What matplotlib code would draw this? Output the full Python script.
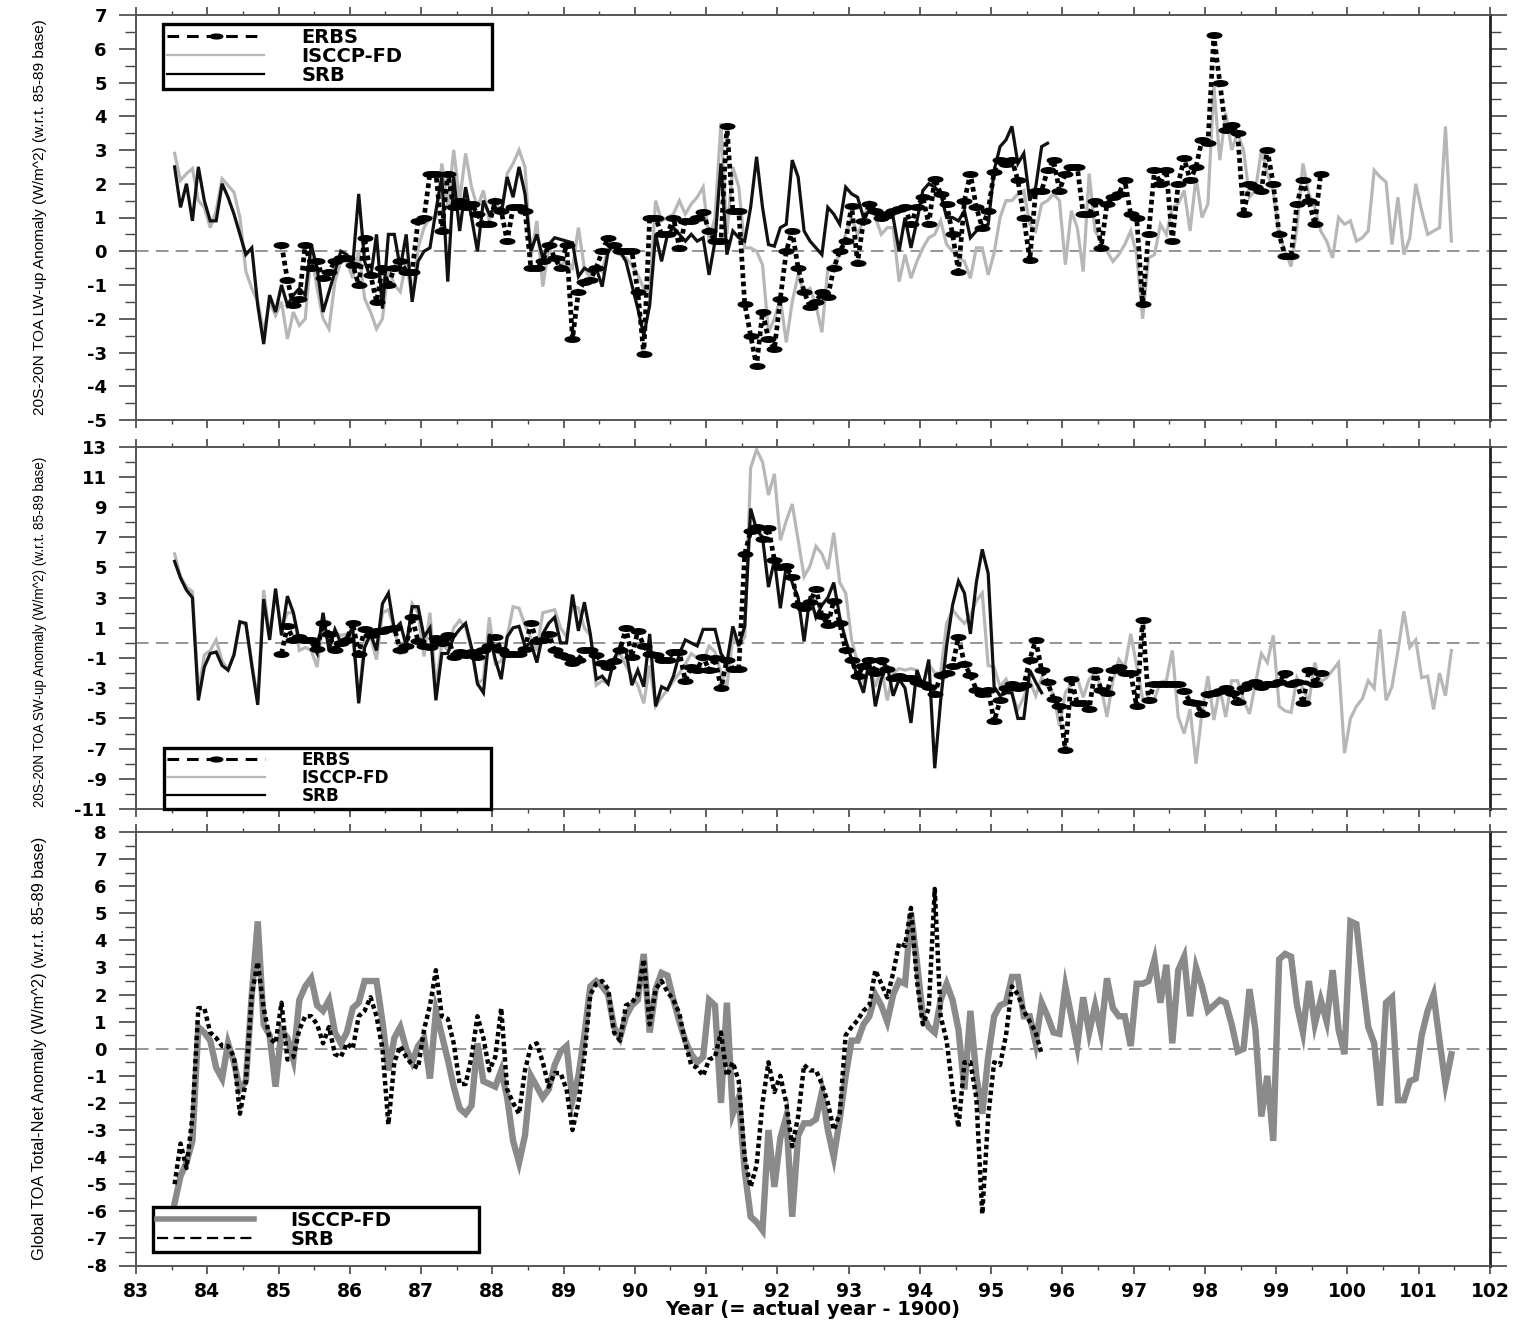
import numpy as np
import matplotlib
matplotlib.use("Agg")
import matplotlib.pyplot as plt
from matplotlib.path import Path
from matplotlib.transforms import Affine2D
from matplotlib.lines import Line2D
from matplotlib.ticker import MultipleLocator, FixedLocator

plt.rcParams["font.family"] = ["DejaVu Sans"]
plt.rcParams["axes.unicode_minus"] = False

# monthly anomalies, first month = July 1983 (mid-month)
T0 = 83.5 + 1 / 24
ERBS_START = 18  # ERBS record starts Jan 1985

# ---- 20S-20N LW-up ----
srb_lw = [2.5, 1.3, 2.0, 0.9, 2.5, 1.5, 0.9, 0.9, 2.0, 1.6,
          1.1, 0.5, -0.1, 0.1, -1.6, -2.75, -1.3, -1.8, -1.0, -1.6,
          -1.3, -1.1, -1.3, 0.2, -0.5, -1.8, -1.2, -0.6, 0.0, -0.1,
          -0.4, 1.7, -0.3, -0.8, 0.5, -1.7, 0.5, 0.5, -0.5, 0.5,
          -1.5, -0.3, 0.0, 0.1, 1.2, 2.2, -0.9, 2.2, 0.6, 1.9,
          1.0, 0.0, 1.5, 1.1, 1.3, 1.1, 2.2, 1.6, 2.5, 1.7,
          0.0, 0.5, -0.2, 0.2, 0.4, 0.35, 0.3, 0.25, -0.75, -0.5,
          -0.6, -0.5, -1.05, 0.0, 0.2, 0.0, -0.3, -1.0, -1.7, -2.5,
          -1.6, 0.5, -0.3, 0.5, 0.7, 0.5, 0.3, 0.5, 0.3, 0.4,
          -0.7, 0.3, 2.6, -0.1, 0.6, 0.4, 0.3, 1.3, 2.8, 1.3,
          0.2, 0.15, 0.7, 0.8, 2.7, 2.2, 0.6, 0.3, 0.1, -0.1,
          1.3, 1.1, 0.8, 1.9, 1.7, 1.6, 1.0, 1.2, 1.1, 1.0,
          1.0, 1.0, 0.0, 1.0, 0.1, 0.9, 1.8, 2.0, 1.9, 1.7,
          1.0, 1.0, 0.9, 1.2, 0.4, 0.6, 0.7, 0.8, 2.4, 3.1,
          3.3, 3.7, 2.6, 2.9, 1.5, 1.9, 3.1, 3.2]
isccp_lw = [2.9, 2.1, 2.3, 2.45, 1.5, 1.3, 0.7, 1.2, 2.15, 1.95,
            1.75, 1.0, -0.6, -1.1, -1.5, -2.4, -1.5, -1.9, -1.5, -2.6,
            -1.8, -2.2, -2.0, 0.0, -1.1, -2.0, -2.3, -0.9, -0.3, -0.3,
            -0.8, 0.0, -1.4, -1.8, -2.3, -2.0, -0.5, -1.0, -1.2, -0.3,
            -1.4, 0.1, 0.7, 1.0, 1.0, 2.6, 1.3, 3.0, 1.5, 2.9,
            1.9, 1.3, 1.8, 0.9, 1.5, 1.1, 2.3, 2.6, 3.0, 2.5,
            -0.2, 0.9, -1.05, 0.1, -0.2, -0.4, -0.3, -0.5, 0.7, -0.5,
            -0.8, -0.4, -0.6, 0.1, 0.0, -0.1, -0.2, -0.4, -0.7, -1.1,
            -1.2, 1.5, 0.9, 1.0, 1.1, 1.5, 1.1, 1.4, 1.6, 1.9,
            0.3, 1.0, 3.8, 0.5, 2.5, 1.9, 0.1, 0.1, 0.0, -0.4,
            -2.4, -2.0, -1.4, -2.7, -1.5, -0.7, -1.2, -1.1, -1.6, -2.4,
            -0.5, -0.4, -0.1, 0.5, 1.0, 0.5, 0.9, 1.5, 1.0, 0.5,
            0.7, 0.7, -0.9, -0.1, -0.8, -0.3, 0.1, 0.4, 0.5, 0.9,
            0.2, 0.0, -0.2, -0.3, -0.8, 0.1, 0.1, -0.7, -0.05, 1.0,
            1.5, 1.5, 1.7, 1.8, 0.8, 0.6, 1.4, 1.5, 1.7, 1.5,
            -0.4, 1.2, 0.7, -0.6, 2.3, 0.6, 0.3, 0.0, -0.3, -0.1,
            0.2, 0.6, -0.1, -2.0, -0.2, -0.1, 0.8, 0.5, 1.3, 1.4,
            1.8, 0.6, 2.2, 1.0, 1.4, 4.9, 2.7, 4.1, 3.0, 3.5,
            3.0, 1.6, 1.8, 3.0, 2.3, 1.8, 0.5, 0.0, -0.45, 0.7,
            2.6, 1.7, 1.3, 0.6, 0.3, -0.2, 1.0, 0.8, 0.9, 0.3,
            0.4, 0.6, 2.4, 2.2, 2.05, 0.2, 1.6, -0.1, 0.4, 2.0,
            1.2, 0.5, 0.6, 0.7, 3.7, 0.3]
erbs_lw = [0.2, -0.85, -1.6, -1.4, 0.2, -0.5, -0.3, -0.8, -0.6, -0.3,
           -0.2, -0.2, -0.4, -1.0, 0.4, -0.7, -1.5, -0.5, -1.0, -0.5,
           -0.3, -0.6, -0.6, 0.9, 1.0, 2.3, 2.3, 0.6, 2.3, 1.3,
           1.5, 1.3, 1.4, 1.1, 0.8, 0.8, 1.5, 1.2, 0.3, 1.3,
           1.3, 1.2, -0.5, -0.5, -0.3, 0.2, -0.2, -0.5, 0.2, -2.6,
           -1.2, -0.9, -0.85, -0.5, 0.0, 0.4, 0.2, 0.0, 0.0, 0.0,
           -1.2, -3.05, 1.0, 1.0, 0.5, 0.5, 1.0, 0.1, 0.9, 0.9,
           1.0, 1.15, 0.6, 0.3, 0.3, 3.7, 1.2, 1.2, -1.55, -2.5,
           -3.4, -1.8, -2.6, -2.9, -1.4, 0.0, 0.6, -0.5, -1.2, -1.65,
           -1.5, -1.2, -1.35, -0.5, 0.0, 0.3, 1.35, -0.35, 0.9, 1.4,
           1.2, 1.0, 1.1, 1.2, 1.25, 1.3, 0.8, 1.3, 1.6, 0.8,
           2.15, 1.7, 1.4, 0.5, -0.6, 1.5, 2.3, 1.3, 0.7, 1.2,
           2.35, 2.7, 2.6, 2.7, 2.1, 1.0, -0.27, 1.8, 1.8, 2.4,
           2.7, 1.8, 2.3, 2.5, 2.5, 1.1, 1.1, 1.5, 0.1, 1.4,
           1.6, 1.7, 2.1, 1.1, 1.0, -1.55, 0.5, 2.4, 2.0, 2.4,
           0.3, 2.0, 2.75, 2.1, 2.5, 3.3, 3.2, 6.4, 5.0, 3.6,
           3.75, 3.5, 1.1, 2.0, 1.9, 1.8, 3.0, 2.0, 0.5, -0.15,
           -0.15, 1.4, 2.1, 1.5, 0.8, 2.3]

# ---- 20S-20N SW-up ----
srb_sw = [5.4, 4.3, 3.5, 3.0, -3.8, -1.6, -0.7, -0.6, -1.5, -1.8,
          -0.8, 1.4, 1.3, -1.5, -4.1, 2.9, 0.2, 3.6, 0.5, 3.1,
          2.0, 0.1, 0.1, 0.0, -0.7, 2.0, -0.5, 0.9, 0.0, 0.4,
          1.0, -4.0, -0.3, 0.6, -0.5, 2.6, 3.3, 0.9, 1.3, -0.2,
          2.4, 2.4, 0.4, 1.0, -3.8, -0.7, -0.7, 0.4, 0.9, 1.3,
          -0.3, -2.7, -3.3, 0.6, -1.1, -2.4, 0.4, 1.0, 1.1, -0.2,
          0.0, -1.3, 0.6, 1.3, 1.7, 0.0, 0.0, 3.2, 0.8, 2.7,
          0.6, -2.4, -2.2, -2.7, -1.1, -0.2, -0.5, -2.8, -1.8, -2.9,
          0.6, -4.2, -2.9, -3.1, -2.2, -0.7, 0.2, 0.0, -0.2, 0.9,
          0.9, 0.9, -0.7, -1.3, 1.1, -0.2, 1.1, 8.9, 7.5, 7.0,
          3.7, 5.5, 2.3, 5.1, 4.0, 3.0, 0.1, 3.1, 1.7, 2.5,
          3.0, 4.0, 1.7, 0.2, -1.1, -2.2, -3.3, -1.1, -4.2, -2.4,
          -1.5, -3.5, -2.4, -3.0, -5.3, -1.8, -2.9, -1.1, -8.3, -3.8,
          -0.2, 2.5, 4.1, 3.3, 0.6, 4.0, 6.2, 4.6, -2.9, -3.5,
          -3.3, -3.3, -5.0, -5.0, -1.8, -2.6, -3.3]
isccp_sw = [5.9, 4.4, 3.7, 3.4, -3.3, -0.8, -0.5, 0.2, -1.2, -1.8,
            -0.7, 1.4, 1.2, -1.3, -3.8, 3.5, 0.5, 3.3, 1.0, 2.0,
            2.0, -0.5, -0.3, -0.5, -1.6, 1.5, 0.2, 0.7, 0.5, 0.6,
            0.4, -3.8, 0.4, 0.4, -1.1, 2.0, 2.2, 0.9, -0.7, -0.6,
            2.6, 2.0, -0.9, 2.0, -2.9, 0.0, -0.5, 1.0, 1.5, 1.0,
            -0.5, -2.7, -2.4, 1.7, -1.4, -1.2, 0.4, 2.4, 2.3, 1.2,
            0.3, -0.5, 2.0, 2.1, 2.2, 1.0, 0.4, 2.5, 2.3, 1.0,
            0.5, -2.8, -2.5, -2.7, -1.0, -0.7, -1.5, -2.2, -2.8, -4.0,
            -1.5, -4.2, -3.6, -3.1, -2.5, -2.0, -1.4, -0.7, -1.0, -1.2,
            -0.2, -0.6, -2.0, -2.9, 0.4, -0.2, 0.4, 11.6, 12.8, 12.0,
            9.8, 11.2, 6.8, 8.1, 9.2, 6.8, 4.4, 5.1, 6.4, 5.9,
            4.9, 7.3, 4.0, 3.3, 0.2, -1.3, -2.5, -1.5, -2.9, -1.6,
            -3.8, -2.0, -1.7, -1.8, -1.7, -1.8, -2.9, -1.4, -2.0, -2.0,
            1.3, 2.2, 1.7, 1.3, 1.8, 2.8, 3.3, -1.5, -1.6, -2.9,
            -2.4, -3.4, -4.4, -3.6, -2.5, -3.5, -2.3, -2.9, -3.4, -5.5,
            -3.3, -2.7, -2.3, -3.6, -2.4, -2.0, -2.9, -4.9, -2.5, -1.1,
            -1.6, 0.6, -1.5, -3.7, -3.9, -3.7, -2.6, -2.5, -0.5, -4.9,
            -6.0, -4.4, -8.0, -4.6, -2.2, -5.1, -3.0, -4.9, -2.5, -2.5,
            -3.8, -4.7, -2.7, -0.7, -1.3, 0.5, -4.2, -4.5, -4.6, -2.3,
            -3.0, -3.9, -1.3, -2.6, -2.3, -1.8, -1.3, -7.3, -5.0, -4.2,
            -3.7, -2.5, -3.0, 0.9, -3.8, -2.9, -0.5, 2.1, -0.3, 0.2,
            -2.3, -2.2, -4.4, -2.0, -3.5, -0.5]
erbs_sw = [-0.7, 1.1, 0.2, 0.4, 0.2, 0.2, -0.4, 1.3, 0.6, -0.5,
           0.0, 0.2, 1.3, -0.7, 0.9, 0.5, 0.8, 0.8, 0.9, 1.0,
           -0.5, -0.2, 1.7, 0.1, -0.2, -0.3, 0.3, 0.0, 0.5, -0.9,
           -0.6, -0.8, -0.6, -0.9, -0.5, -0.2, 0.4, -0.5, -0.7, -0.7,
           -0.7, -0.4, 1.3, 0.1, 0.2, 0.6, -0.5, -0.8, -0.9, -1.3,
           -1.1, -0.5, -0.5, -0.8, -1.3, -1.6, -1.2, -0.5, 1.0, -0.9,
           0.8, -0.2, -0.7, -0.8, -1.1, -1.1, -0.6, -0.6, -2.5, -1.6,
           -1.8, -0.9, -1.8, -1.0, -3.0, -1.1, -1.7, -1.7, 5.9, 7.4,
           7.7, 6.9, 7.6, 5.5, 5.0, 5.1, 4.4, 2.5, 2.3, 2.7,
           3.6, 1.8, 1.2, 2.8, 1.3, -0.5, -1.1, -2.2, -1.5, -1.1,
           -2.0, -1.1, -1.7, -2.3, -2.2, -2.3, -2.3, -2.6, -2.7, -2.9,
           -3.4, -2.1, -2.0, -1.5, 0.4, -1.4, -2.1, -3.1, -3.4, -3.1,
           -5.2, -3.8, -3.0, -2.7, -3.0, -2.8, -1.1, 0.2, -1.8, -2.6,
           -3.7, -4.2, -7.1, -2.4, -4.0, -4.0, -4.4, -1.8, -3.1, -3.3,
           -1.8, -1.6, -2.0, -2.0, -4.2, 1.5, -3.8, -2.7, -2.7, -2.7,
           -2.7, -2.7, -3.2, -3.9, -4.0, -4.7, -3.4, -3.3, -3.2, -3.0,
           -3.3, -3.9, -3.0, -2.7, -2.6, -2.9, -2.7, -2.7, -2.6, -2.0,
           -2.7, -2.6, -4.0, -1.8, -2.7, -2.0]

# ---- Global total-net ----
isccp_net = [-5.7, -4.7, -4.2, -3.4, 0.8, 0.6, 0.3, -0.7, -1.1, 0.2,
             -0.5, -1.5, -1.2, 2.0, 4.7, 0.9, 0.5, -1.4, 0.7, 0.4,
             -0.4, 1.8, 2.3, 2.6, 1.6, 1.4, 1.8, 0.6, 0.2, 0.6,
             1.5, 1.7, 2.5, 2.5, 2.5, 1.0, -0.8, 0.4, 0.8, 0.0,
             -0.5, 0.1, 0.4, -1.1, 1.4, 0.5, -0.4, -1.4, -2.2, -2.4,
             -2.1, 0.2, -1.2, -1.3, -1.4, -0.8, -1.8, -3.4, -4.2, -3.2,
             -1.0, -1.4, -1.8, -1.5, -0.6, -0.1, 0.1, -1.9, -1.0, 0.5,
             2.3, 2.5, 2.3, 2.0, 0.8, 0.4, 1.2, 1.6, 1.8, 3.5,
             0.6, 2.2, 2.8, 2.7, 1.8, 1.0, 0.3, -0.2, -0.5, -0.3,
             1.8, 1.6, -2.0, 1.7, -2.4, -1.8, -4.5, -6.2, -6.4, -6.7,
             -3.0, -5.1, -3.3, -2.5, -6.2, -3.2, -2.75, -2.75, -2.6, -1.6,
             -3.0, -4.0, -2.6, -1.0, 0.3, 0.3, 0.9, 1.2, 2.0, 1.6,
             1.0, 2.0, 2.5, 2.4, 5.0, 3.2, 1.2, 0.8, 0.6, 1.8,
             2.4, 1.8, 0.7, -1.5, 1.4, -1.0, -2.4, -0.3, 1.2, 1.6,
             1.7, 2.65, 2.65, 1.2, 1.2, 0.2, 1.7, 1.2, 0.6, 0.55,
             2.3, 1.2, 0.1, 1.9, 0.6, 1.6, 0.6, 2.6, 1.5, 1.2,
             1.2, 0.1, 2.4, 2.4, 2.5, 3.3, 1.7, 3.1, 0.2, 2.9,
             3.4, 1.2, 3.0, 2.3, 1.4, 1.6, 1.8, 1.7, 0.9, -0.1,
             0.0, 2.2, 0.7, -2.5, -1.0, -3.4, 3.3, 3.5, 3.4, 1.6,
             0.6, 2.5, 0.9, 1.8, 1.0, 2.9, 0.7, -0.2, 4.7, 4.6,
             2.6, 0.8, 0.2, -2.1, 1.7, 1.9, -1.9, -1.9, -1.2, -1.1,
             0.5, 1.4, 2.0, 0.3, -1.3, -0.2]
srb_net = [-5.0, -3.5, -4.4, -2.5, 1.5, 1.5, 0.6, 0.4, 0.1, 0.1,
           -0.3, -2.4, -1.2, 2.0, 3.2, 1.5, 0.4, 0.2, 1.7, -0.4,
           -0.3, 0.7, 1.2, 1.2, 0.9, 0.2, 0.8, -0.2, -0.3, 0.2,
           0.0, 1.2, 1.4, 1.9, 1.2, 0.0, -2.8, -0.5, 0.1, -0.3,
           -0.6, -0.7, 0.7, 1.6, 2.9, 1.2, 1.1, 0.2, -1.3, -1.3,
           -0.3, 1.2, 0.4, -0.8, -0.3, 1.5, -1.5, -2.0, -2.4, -0.8,
           0.1, 0.2, -0.5, -1.4, -0.9, -0.9, -1.5, -3.0, -2.0, -0.3,
           2.0, 2.4, 2.5, 2.2, 0.6, 0.3, 1.6, 1.7, 2.0, 3.3,
           0.9, 2.2, 2.5, 2.1, 1.8, 1.3, 0.2, -0.6, -0.7, -1.0,
           -0.4, -0.3, 0.6, -1.0, -0.5, -1.2, -4.0, -5.1, -4.3, -2.0,
           -0.5, -1.6, -1.0, -2.0, -3.6, -2.5, -0.6, -0.8, -0.8, -1.3,
           -2.0, -3.0, -2.4, 0.5, 0.8, 1.05, 1.4, 1.6, 2.9, 2.4,
           1.9, 2.8, 3.9, 3.8, 5.2, 2.5, 0.9, 1.5, 5.9, 1.2,
           0.3, -1.5, -2.9, -0.5, -0.5, -1.8, -6.1, -2.5, -0.5, -0.6,
           0.5, 2.3, 2.0, 1.4, 1.0, 0.6, -0.2]

LIGHT = "#b7b7b7"
MID = "#8a8a8a"
LABEL_FONT = ["Liberation Sans", "DejaVu Sans"]

# ellipse marker used for the ERBS samples
ellipse = Path.unit_circle().transformed(Affine2D().scale(1.0, 0.38))


def months(vals, start=0):
    return T0 + (start + np.arange(len(vals))) / 12.0


def style_axis(ax, ylim, yticks, yminor):
    ax.set_xlim(83, 102)
    ax.set_ylim(*ylim)
    ax.xaxis.set_major_locator(MultipleLocator(1))
    ax.xaxis.set_minor_locator(MultipleLocator(0.5))
    ax.yaxis.set_major_locator(FixedLocator(yticks))
    ax.yaxis.set_minor_locator(FixedLocator(yminor))
    ax.tick_params(axis="x", which="major", direction="out", length=6, width=1.2,
                   top=True, bottom=True, color="#444", labelsize=13.5, pad=6)
    ax.tick_params(axis="x", which="minor", direction="out", length=3, width=1,
                   top=True, bottom=True, color="#444")
    ax.tick_params(axis="y", which="major", direction="out", length=12, width=1.2,
                   left=True, right=True, color="#444", labelsize=13, pad=9)
    ax.tick_params(axis="y", which="minor", direction="out", length=8, width=1,
                   left=True, right=True, color="#444")
    for lab in ax.get_xticklabels() + ax.get_yticklabels():
        lab.set_fontweight("bold")
    for side in ["left", "top", "bottom"]:
        ax.spines[side].set_color("#555")
        ax.spines[side].set_linewidth(1.4)
    ax.spines["right"].set_color("#222")
    ax.spines["right"].set_linewidth(2.0)
    ax.axhline(0, color="#8c8c8c", lw=1.3, ls=(0, (7, 4)), zorder=1)


def add_legend(ax, handles, labels, bbox, size=14):
    leg = ax.legend(handles, labels, loc="upper left", bbox_to_anchor=bbox, mode="expand",
                    borderaxespad=0, borderpad=0.2, labelspacing=0.0, handlelength=5.0 * 14 / size,
                    handletextpad=1.9 * 14 / size, fancybox=False, framealpha=1, edgecolor="k",
                    prop={"weight": "bold", "size": size})
    leg.get_frame().set_linewidth(2.4)
    return leg


W_FIG, H_FIG = 1521, 1323
fig = plt.figure(figsize=(W_FIG / 100, H_FIG / 100), dpi=100)
left = 136 / W_FIG
width = 1354 / W_FIG
ax1 = fig.add_axes([left, 1 - 420 / H_FIG, width, 405 / H_FIG])
ax2 = fig.add_axes([left, 1 - 809 / H_FIG, width, 362.3 / H_FIG])
ax3 = fig.add_axes([left, 1 - 1265.5 / H_FIG, width, 433.5 / H_FIG])

# panel 1 / panel 2: ERBS, ISCCP-FD, SRB
for ax, isccp, srb, erbs in [(ax1, isccp_lw, srb_lw, erbs_lw), (ax2, isccp_sw, srb_sw, erbs_sw)]:
    ax.plot(months(isccp), isccp, color=LIGHT, lw=2.3, solid_joinstyle="miter", zorder=2)
    ax.plot(months(srb), srb, color="#111111", lw=2.3, solid_joinstyle="miter", zorder=3)
    ax.plot(months(erbs, ERBS_START), erbs, color="k", lw=3.4, ls=(0, (1.0, 0.75)),
            marker=ellipse, ms=10.5, zorder=4)

# panel 3: ISCCP-FD, SRB
ax3.plot(months(isccp_net), isccp_net, color=MID, lw=4.6, solid_joinstyle="miter", zorder=2)
ax3.plot(months(srb_net), srb_net, color="k", lw=3.2, ls=(0, (1.0, 0.75)), zorder=3)

style_axis(ax1, (-5, 7), np.arange(-5, 8, 1), np.arange(-4.5, 7, 1))
style_axis(ax2, (-11, 13), np.arange(-11, 14, 2), np.arange(-10, 13, 2))
style_axis(ax3, (-8, 8), np.arange(-8, 9, 1), np.arange(-7.5, 8, 1))
ax1.tick_params(axis="x", labelbottom=False)
ax2.tick_params(axis="x", labelbottom=False)

h_erbs = Line2D([], [], color="k", lw=2.2, ls=(0, (3.8, 2.6)), marker=ellipse, ms=9)
h_isccp = Line2D([], [], color=LIGHT, lw=1.6)
h_srb = Line2D([], [], color="k", lw=1.6)
add_legend(ax1, [h_erbs, h_isccp, h_srb], ["ERBS", "ISCCP-FD", "SRB"], (0.020, 0.978, 0.243, 0.0))
add_legend(ax2, [h_erbs, h_isccp, h_srb], ["ERBS", "ISCCP-FD", "SRB"], (0.0207, 0.169, 0.2415, 0.0), size=12.2)
add_legend(ax3, [Line2D([], [], color=MID, lw=4.0), Line2D([], [], color="k", lw=1.6, ls=(0, (5, 2.5)))],
           ["ISCCP-FD", "SRB"], (0.0123, 0.1356, 0.2412, 0.0))

ax1.set_ylabel("20S-20N TOA LW-up Anomaly (W/m^2) (w.r.t. 85-89 base)", family=LABEL_FONT, fontsize=10)
ax2.set_ylabel("20S-20N TOA SW-up Anomaly (W/m^2) (w.r.t. 85-89 base)", family=LABEL_FONT, fontsize=10)
ax3.set_ylabel("Global TOA Total-Net Anomaly (W/m^2) (w.r.t. 85-89 base)", family=LABEL_FONT, fontsize=10)
ax1.yaxis.set_label_coords(-0.066, 0.50)
ax2.yaxis.set_label_coords(-0.066, 0.49)
ax3.yaxis.set_label_coords(-0.066, 0.50)

ax3.set_xlabel("Year (= actual year - 1900)", fontsize=14, fontweight="bold")
ax3.xaxis.set_label_coords(0.5, -0.08)

# scale the axis titles so that each fills its panel height like the original
fig.canvas.draw()
renderer = fig.canvas.get_renderer()
for ax, span in [(ax1, 398), (ax2, 352), (ax3, 424)]:
    lab = ax.yaxis.label
    ext = lab.get_window_extent(renderer)
    lab.set_fontsize(lab.get_fontsize() * span / ext.height)

fig.savefig("out.png", dpi=100)
